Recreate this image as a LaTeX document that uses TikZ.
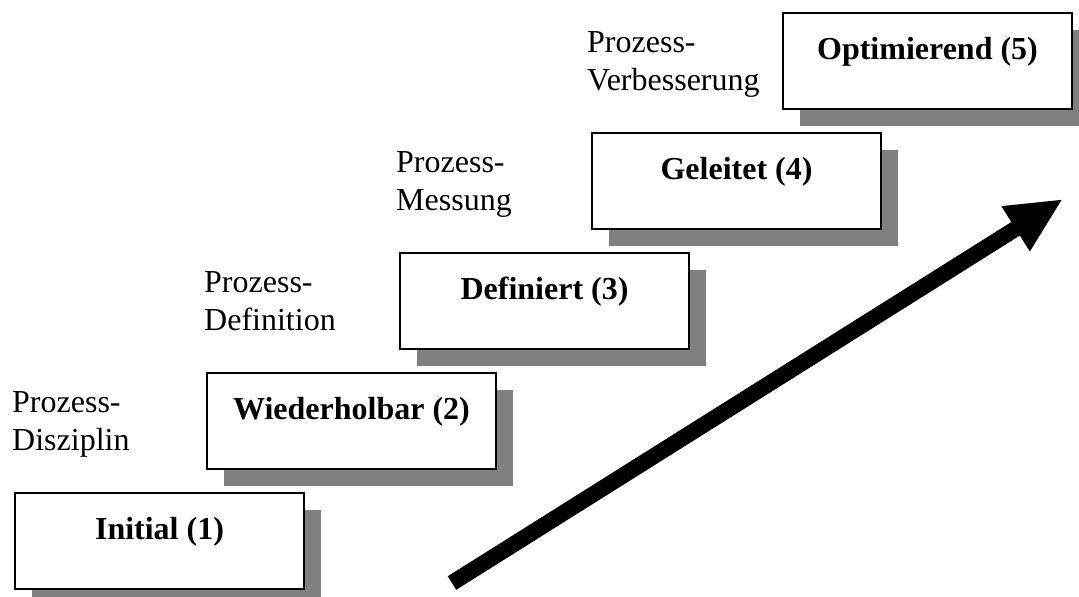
\documentclass[tikz,border=0pt]{standalone}
\usepackage{fontspec}
\setmainfont{Liberation Serif}
\usetikzlibrary{arrows.meta}
\definecolor{shadowgray}{HTML}{808080}
\tikzset{
  stage/.style={draw=black, line width=1.5pt, fill=white, rectangle,
    minimum width=289pt, minimum height=96pt, inner sep=0pt,
    preaction={fill=shadowgray, draw=none, transform canvas={xshift=17pt,yshift=-17pt}}},
  stagetext/.style={anchor=base, inner sep=0pt, font=\fontsize{32}{37}\selectfont\bfseries},
  proc/.style={anchor=base west, inner sep=0pt, font=\fontsize{32}{37}\selectfont},
  bigarrow/.style={line width=16pt, -{Triangle[length=56pt,width=49pt]}}
}
\begin{document}
\begin{tikzpicture}[x=1pt,y=-1pt]
\useasboundingbox (0,0) rectangle (1079,597);
\clip (0,0) rectangle (1079,597);
% boxes
\node[stage] (s1) at (159.5,541) {};
\node[stage] (s2) at (351.5,421) {};
\node[stage] (s3) at (544.5,301) {};
\node[stage] (s4) at (736.5,181) {};
\node[stage] (s5) at (927.5,61) {};
\node[stagetext] (t1) at ([yshift=-47pt]s1.north) {Initial (1)};
\node[stagetext] (t2) at ([yshift=-47pt]s2.north) {Wiederholbar (2)};
\node[stagetext] (t3) at ([yshift=-47pt]s3.north) {Definiert (3)};
\node[stagetext] (t4) at ([yshift=-47pt]s4.north) {Geleitet (4)};
\node[stagetext] (t5) at ([yshift=-47pt]s5.north) {Optimierend (5)};
% side labels
\node[proc] (p1a) at (12,412) {Prozess-};
\node[proc] (p1b) at (12,450) {Disziplin};
\node[proc] (p2a) at (204,292) {Prozess-};
\node[proc] (p2b) at (204,330) {Definition};
\node[proc] (p3a) at (396,172) {Prozess-};
\node[proc] (p3b) at (396,210) {Messung};
\node[proc] (p4a) at (587,52) {Prozess-};
\node[proc] (p4b) at (587,90) {Verbesserung};
% arrow
\coordinate (tail) at (452,583);
\coordinate (tip) at (1063,199);
\draw[bigarrow] (tail) -- (tip);
\end{tikzpicture}
\end{document}
